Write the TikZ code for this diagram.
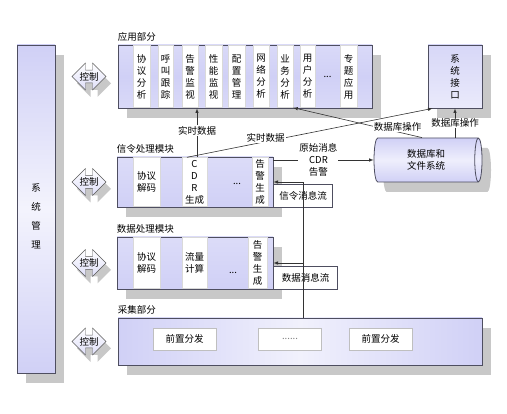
\documentclass[tikz,border=0pt]{standalone}
\usepackage{fontspec}
\setmainfont{Noto Sans CJK SC}
\usetikzlibrary{shapes.geometric,shapes.arrows,shadows,positioning}

\definecolor{lav}{RGB}{208,208,246}
\definecolor{edge}{RGB}{78,78,96}
\definecolor{shd}{RGB}{200,200,200}

\tikzset{
  shadowed/.style={drop shadow={shadow xshift=9pt, shadow yshift=-10pt, fill=shd, opacity=1}},
  panel/.style={draw=edge, line width=0.8pt, inner sep=0pt, shadowed},
  col/.style={fill=white, draw=gray!30, inner sep=0pt, align=center},
  msg/.style={draw=edge, fill=white, inner sep=0pt, minimum height=23pt, minimum width=60pt},
  lbl/.style={fill=white, inner sep=1pt, align=center},
  ctrl/.style={double arrow, draw=gray!70!black, top color=white, bottom color=lav!70,
    minimum height=34pt, minimum width=27pt, double arrow head extend=5pt, inner sep=0pt,
    drop shadow={shadow xshift=5pt, shadow yshift=-7pt, fill=shd, opacity=1}},
  link/.style={->, >=latex, draw=black!80, line width=0.6pt}
}

\begin{document}
\begin{tikzpicture}[x=1pt, y=-1pt, font=\fontsize{9.5}{12}\selectfont]
\useasboundingbox (0,0) rectangle (507,414);

% system management
\node (sys) [panel, top color=lav, bottom color=lav, middle color=lav!25!white, minimum width=38pt, minimum height=328pt] at (36,209) {};
\node (systxt) [align=center, inner sep=0pt] at (36,216) {系\\[7pt]统\\[7pt]管\\[7pt]理};

% application part
\node (app) [panel, top color=lav!80, bottom color=lav!80, middle color=lav, minimum width=254pt, minimum height=63pt] at (245,76.5) {};
\node (applbl) [above right=2pt and -1pt of app.north west, inner sep=1pt] {应用部分};
\foreach \cx/\w/\txt [count=\i] in {141.5/17/{协\\议\\分\\析}, 165.5/15/{呼\\叫\\跟\\踪},
    190/16/{告\\警\\监\\视}, 213.5/17/{性\\能\\监\\视}, 236.5/17/{配\\置\\管\\理},
    261/16/{网\\络\\分\\析}, 285/16/{业\\务\\分\\析}, 307.5/15/{用\\户\\分\\析}, 348.5/17/{专\\题\\应\\用}}
  \node (app-\i) [col, minimum width=\w*1pt, minimum height=62pt] at (\cx,76.5) {\txt};
\node (appdots) at (327.5,76.5) {...};

% system interface
\node (iface) [panel, top color=lav!85, bottom color=lav!45, minimum width=54pt, minimum height=63pt, align=center] at (455,76.5) {系\\统\\接\\口};

% database
\node (db) [cylinder, panel, shape aspect=0.35, minimum height=108pt, minimum width=44pt, top color=lav, bottom color=lav, middle color=lav!35!white, align=center] at (426,160) {数据库和\\文件系统};

% signalling module
\node (sig) [panel, top color=lav!75, bottom color=lav, minimum width=156pt, minimum height=50pt] at (195,182) {};
\node (siglbl) [above right=2pt and -1pt of sig.north west, inner sep=1pt] {信令处理模块};
\foreach \cx/\w/\txt [count=\i] in {146.5/27/{协议\\解码}, 194.5/25/{C\\D\\R\\生成}, 260/16/{告\\警\\生\\成}}
  \node (sig-\i) [col, minimum width=\w*1pt, minimum height=49pt] at (\cx,182) {\txt};
\node (sigdots) at (237,184) {...};
\node (sigmsg) [msg, anchor=south west, minimum width=59pt] at (sig.south east) {信令消息流};

% data module
\node (dat) [panel, top color=lav!75, bottom color=lav, minimum width=156pt, minimum height=52pt] at (195,263) {};
\node (datlbl) [above right=2pt and -1pt of dat.north west, inner sep=1pt] {数据处理模块};
\foreach \cx/\w/\txt [count=\i] in {146.5/27/{协议\\解码}, 194.5/25/{流量\\计算}, 257.5/19/{告\\警\\生\\成}}
  \node (dat-\i) [col, minimum width=\w*1pt, minimum height=51pt] at (\cx,263) {\txt};
\node (datdots) at (233,273) {...};
\node (datmsg) [msg, anchor=south west, minimum width=64pt] at (dat.south east) {数据消息流};

% acquisition part
\node (acq) [panel, left color=lav, right color=lav, middle color=lav!30!white, minimum width=364pt, minimum height=47pt] at (300,341.5) {};
\node (acqlbl) [above right=2pt and -1pt of acq.north west, inner sep=1pt] {采集部分};
\foreach \cx/\txt [count=\i] in {184.5/前置分发, 290/{\textcolor{gray}{......}}, 380.5/前置分发}
  \node (acq-\i) [draw=gray!50, fill=white, minimum width=63pt, minimum height=22pt] at (\cx,339) {\txt};

% control arrows
\coordinate (cx) at (89,0);
\foreach \b [count=\i] in {app,sig,dat,acq}
  \node (ctrl-\i) [ctrl] at (cx |- \b) {控制};

% connectors
\coordinate (rt1) at ([xshift=2.5pt]sig-2.north);
\coordinate (rt2) at ([xshift=-7.5pt]sig-2.north);
\draw[link] (rt1) -- (rt1 |- app.south) node[lbl, pos=0.55] {实时数据};
\draw[link] (rt2) -- ([xshift=5pt]iface.south west) node[lbl, pos=0.32, yshift=4pt] {实时数据};
\draw[link] ([xshift=-4pt]db.north) -- (app-7.south east) node[lbl, pos=0.19, yshift=5pt] {数据库操作};
\draw[link] (db.north -| iface) -- (iface.south) node[lbl, pos=0.5] {数据库操作};
\draw[link] (sig.north east |- db.west) -- (db.west) node[lbl, pos=0.45] {原始消息\\CDR\\告警};
\draw[link] (sigmsg |- acq.north) |- (sig.east);
\draw[link] (sigmsg |- acq.north) |- (dat.east);
\end{tikzpicture}
\end{document}
